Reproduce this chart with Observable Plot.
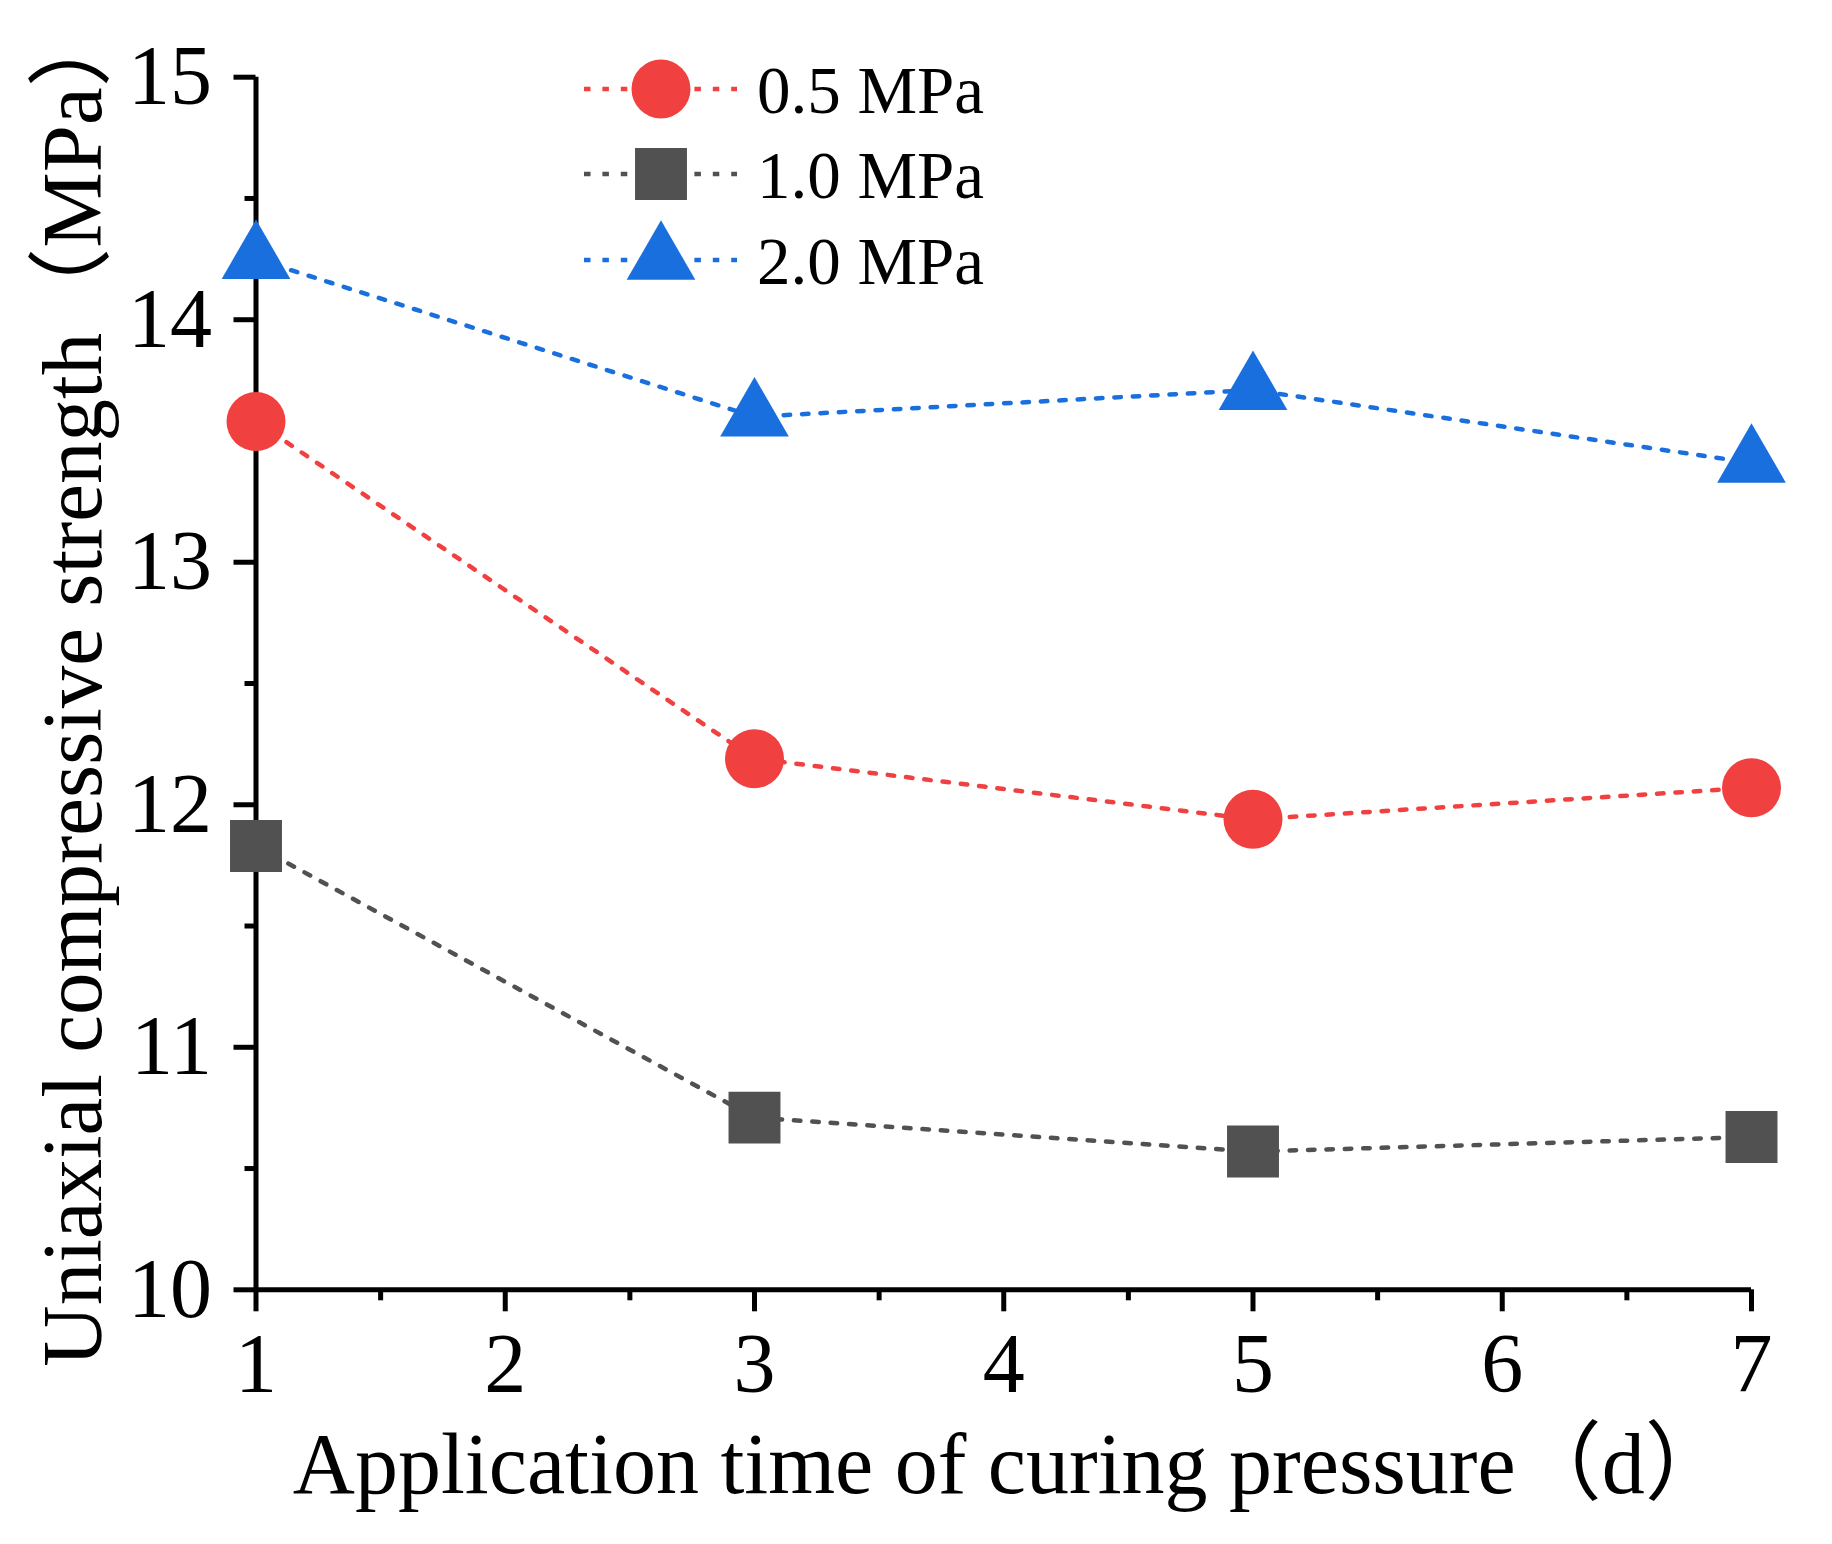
<!DOCTYPE html>
<html><head><meta charset="utf-8">
<script src="https://cdn.jsdelivr.net/npm/d3@7"></script>
<script src="https://cdn.jsdelivr.net/npm/@observablehq/plot@0.6"></script>
<style>
html,body{margin:0;padding:0;background:#fff;}
#chart{width:1832px;height:1544px;}
</style></head><body><div id="chart"></div>
<script>
const days = [1, 3, 5, 7];
const seriesNames = ["0.5 MPa", "1.0 MPa", "2.0 MPa"];
const strength05 = [13.58, 12.19, 11.94, 12.07];
const strength10 = [11.83, 10.71, 10.57, 10.63];
const strength20 = [14.25, 13.60, 13.71, 13.41];
const xTicks = [1, 2, 3, 4, 5, 6, 7];
const xMinorTicks = [1.5, 2.5, 3.5, 4.5, 5.5, 6.5];
const yTicks = [10, 11, 12, 13, 14, 15];
const yMinorTicks = [10.5, 11.5, 12.5, 13.5, 14.5];
const xTitle = "Application time of curing pressure（d）";
const yTitle = "Uniaxial compressive strength（MPa）";

const seriesValues = [strength05, strength10, strength20];
const seriesColors = ["#F14040", "#515151", "#1A6FDF"];
const seriesSymbols = ["circle", "square", "triangle"];
const seriesRadius = [29.5, 29.3, 25.5];

const rows = seriesNames.flatMap((name, i) =>
  days.map((d, j) => ({series: name, day: d, value: seriesValues[i][j]})));

const font = "'Liberation Serif','Times New Roman','Noto Sans CJK SC',serif";
const dash = "6.5,11.9";

const marks = [];
seriesNames.forEach((name, i) => {
  const data = rows.filter(r => r.series === name);
  marks.push(Plot.line(data, {x: "day", y: "value", stroke: seriesColors[i], strokeWidth: 4.5, strokeDasharray: dash}));
});
marks.push(
  Plot.ruleX([1], {strokeWidth: 5, stroke: "black"}),
  Plot.ruleY([10], {strokeWidth: 5, stroke: "black"}),
  Plot.axisY(yTicks, {tickSize: 22, tickPadding: 22, strokeWidth: 5, fontSize: 84, label: null, tickFormat: d => d}),
  Plot.axisY(yMinorTicks, {tickSize: 11, strokeWidth: 5, label: null, tickFormat: () => ""}),
  Plot.axisX(xTicks, {tickSize: 22, tickPadding: 21, strokeWidth: 5, fontSize: 84, label: null, tickFormat: d => d}),
  Plot.axisX(xMinorTicks, {tickSize: 11, strokeWidth: 5, label: null, tickFormat: () => ""}),
  Plot.text([xTitle], {text: d => d, frameAnchor: "bottom", textAnchor: "middle", lineAnchor: "bottom", dx: 8, dy: 203, fontSize: 86, fill: "black"}),
  Plot.text([yTitle], {text: d => d, frameAnchor: "left", textAnchor: "middle", lineAnchor: "bottom", rotate: -90, dx: -155, dy: 1, fontSize: 85, fill: "black"})
);
seriesNames.forEach((name, i) => {
  const data = rows.filter(r => r.series === name);
  marks.push(Plot.dot(data, {x: "day", y: "value", symbol: seriesSymbols[i], r: seriesRadius[i], fill: seriesColors[i], stroke: "none"}));
});

const svg = Plot.plot({
  width: 1832,
  height: 1544,
  marginLeft: 255.5,
  marginRight: 81,
  marginTop: 76.7,
  marginBottom: 254.7,
  x: {domain: [1, 7]},
  y: {domain: [10, 15]},
  style: {fontFamily: font, color: "black", background: "white", overflow: "visible"},
  marks
});

// legend
const legendRows = [89, 174, 260];
const lg = d3.select(svg).append("g").attr("text-anchor", "start");
seriesNames.forEach((name, i) => {
  const cy = legendRows[i];
  lg.append("line").attr("x1", 584).attr("x2", 737).attr("y1", cy).attr("y2", cy)
    .attr("stroke", seriesColors[i]).attr("stroke-width", 4.5).attr("stroke-dasharray", dash);
  const sym = {circle: d3.symbolCircle, square: d3.symbolSquare, triangle: d3.symbolTriangle}[seriesSymbols[i]];
  lg.append("path").attr("transform", `translate(661,${cy})`)
    .attr("d", d3.symbol(sym, Math.PI * seriesRadius[i] ** 2)())
    .attr("fill", seriesColors[i]);
  lg.append("text").attr("x", 757).attr("y", cy + 24).attr("text-anchor", "start")
    .attr("font-size", 67).attr("font-family", font).attr("fill", "black").text(name);
});

document.getElementById("chart").appendChild(svg);
</script>
</body></html>
